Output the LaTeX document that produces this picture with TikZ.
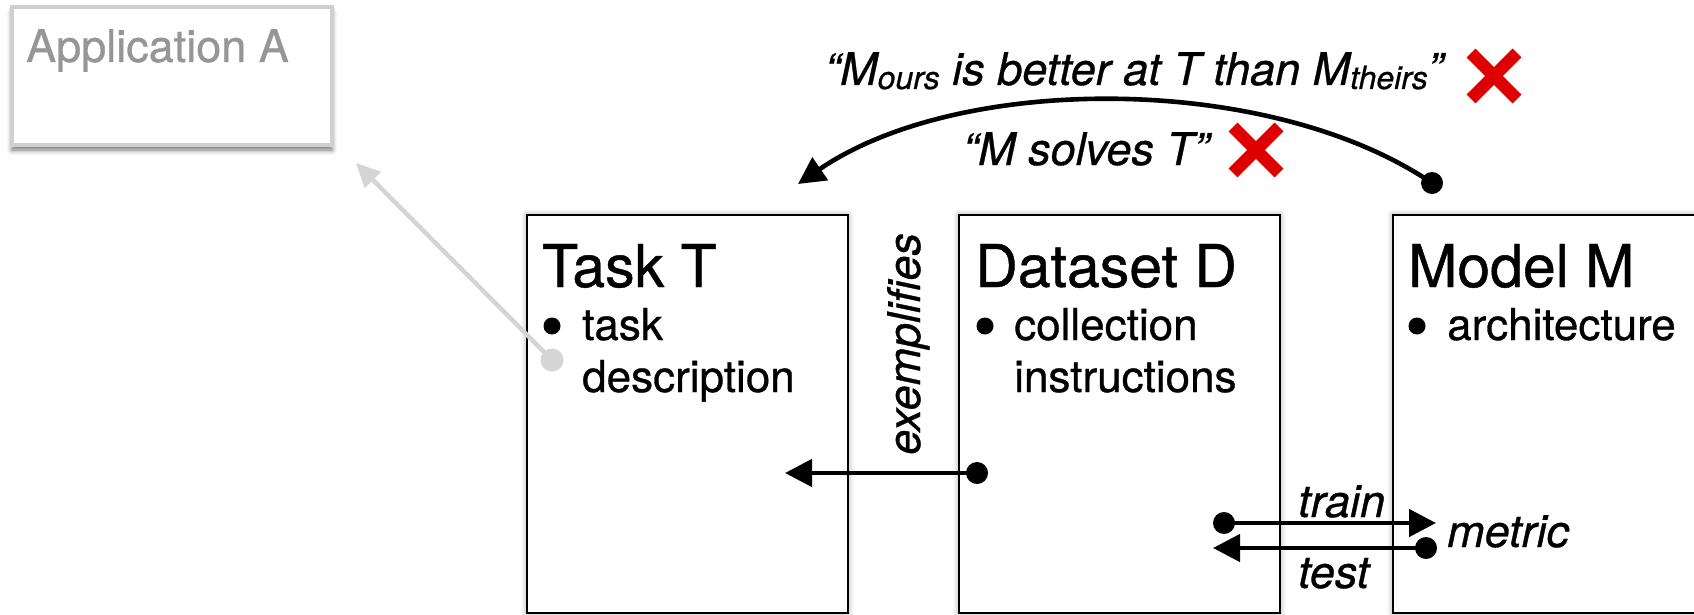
\documentclass[tikz,border=0pt]{standalone}
\usepackage{fontspec}
\setmainfont{TeX Gyre Heros}[FakeBold=0.7]
\usetikzlibrary{arrows.meta,shadows.blur}

\definecolor{crossred}{RGB}{222,0,0}
\definecolor{appgray}{RGB}{150,150,150}
\definecolor{linkgray}{RGB}{212,212,212}
\definecolor{appframe}{RGB}{208,208,208}

\newcommand{\subtext}[1]{\raisebox{-4pt}{\fontsize{32}{32}\selectfont #1}}

\begin{document}
\begin{tikzpicture}[x=1pt,y=-1pt,
  panel/.style={draw=black, line width=2.8pt, fill=white, minimum width=321pt,
    minimum height=398pt, anchor=north west, inner sep=0pt, outer sep=0pt,
    blur shadow={shadow xshift=0pt, shadow yshift=0pt, shadow blur radius=6pt, shadow opacity=40}},
  appbox/.style={draw=appframe, line width=3.2pt, fill=white, minimum width=320pt,
    minimum height=138pt, anchor=north west, inner sep=0pt, outer sep=0pt,
    blur shadow={shadow xshift=0pt, shadow yshift=-5pt, shadow blur radius=5pt, shadow opacity=55}},
  heading/.style={anchor=base west, inner sep=0pt, font=\fontsize{59}{60}\selectfont},
  itemtext/.style={anchor=base west, inner sep=0pt, font=\fontsize{44}{52}\selectfont},
  bulletdot/.style={circle, fill=black, minimum size=17pt, inner sep=0pt},
  verb/.style={anchor=base west, inner sep=0pt, font=\fontsize{45}{50}\selectfont\itshape},
  claim/.style={anchor=base west, inner sep=0pt, font=\fontsize{45}{50}\selectfont\itshape},
  enddot/.style={circle, fill=black, minimum size=22pt, inner sep=0pt},
  graydot/.style={circle, fill=linkgray, minimum size=23pt, inner sep=0pt},
  link/.style={line width=4.6pt, -{Triangle[length=27pt,width=27pt]}},
  ghostlink/.style={draw=linkgray, line width=4.4pt, -{Triangle[length=24pt,width=22pt]}},
  crossline/.style={draw=crossred, line width=12.5pt}
]
\useasboundingbox (0,0) rectangle (1694,615);

% application (greyed out)
\node[appbox] (app) at (12,7) {};
\node[anchor=base west, inner sep=0pt, text=appgray, font=\fontsize{45}{50}\selectfont] (apptitle) at (26,62) {Application A};

% the three panels
\node[panel] (task) at (527,215) {};
\node[panel] (data) at (959,215) {};
\node[panel] (model) at (1393,215) {};

\node[heading] (tasktitle) at (542,287) {Task T};
\node[bulletdot] (taskbullet) at (552,326) {};
\node[itemtext] (taskline1) at (582,340) {task};
\node[itemtext] (taskline2) at (582,392) {description};

\node[heading] (datatitle) at (975,287) {Dataset D};
\node[bulletdot] (databullet) at (985,326) {};
\node[itemtext] (dataline1) at (1014,340) {collection};
\node[itemtext] (dataline2) at (1014,392) {instructions};

\node[heading] (modeltitle) at (1408,287) {Model M};
\node[bulletdot] (modelbullet) at (1417,326) {};
\node[itemtext] (modelline1) at (1447,340) {architecture};

% task description -> application
\node[graydot] (taskdot) at (552,360) {};
\coordinate (apptip) at (356,163);
\draw[ghostlink] (taskdot.center) -- (apptip);

% dataset exemplifies task
\node[enddot] (exdot) at (977,473) {};
\coordinate (extip) at (785,473);
\draw[link] (exdot.center) -- (extip);
\node[verb, rotate=90] (exlabel) at (920,455) {exemplifies};

% train / test
\node[enddot] (traindot) at (1224,523) {};
\coordinate (traintip) at (1436,523);
\draw[link] (traindot.center) -- (traintip);
\node[enddot] (testdot) at (1426,548) {};
\coordinate (testtip) at (1213,548);
\draw[link] (testdot.center) -- (testtip);
\node[verb] (trainlabel) at (1298,517) {train};
\node[verb] (testlabel) at (1298,588) {test};
\node[verb] (metriclabel) at (1447,547) {metric};

% claims arc from model back to task
\node[enddot] (claimdot) at (1432,183) {};
\coordinate (claimtip) at (798,184);
\draw[link] (claimdot.center) .. controls (1270,73) and (960,73) .. (claimtip);

\node[claim] (claimbetter) at (825,85) {“M\subtext{ours} is better at T than M\subtext{theirs}”};
\node[claim] (claimsolves) at (963,165) {“M solves T”};

% red crosses
\coordinate (crossbetter) at (1494,76);
\coordinate (crosssolves) at (1256,150);
\draw[crossline] (crossbetter) +(-23,-23) -- +(23,23) (crossbetter) +(-23,23) -- +(23,-23);
\draw[crossline] (crosssolves) +(-23,-23) -- +(23,23) (crosssolves) +(-23,23) -- +(23,-23);
\end{tikzpicture}
\end{document}
